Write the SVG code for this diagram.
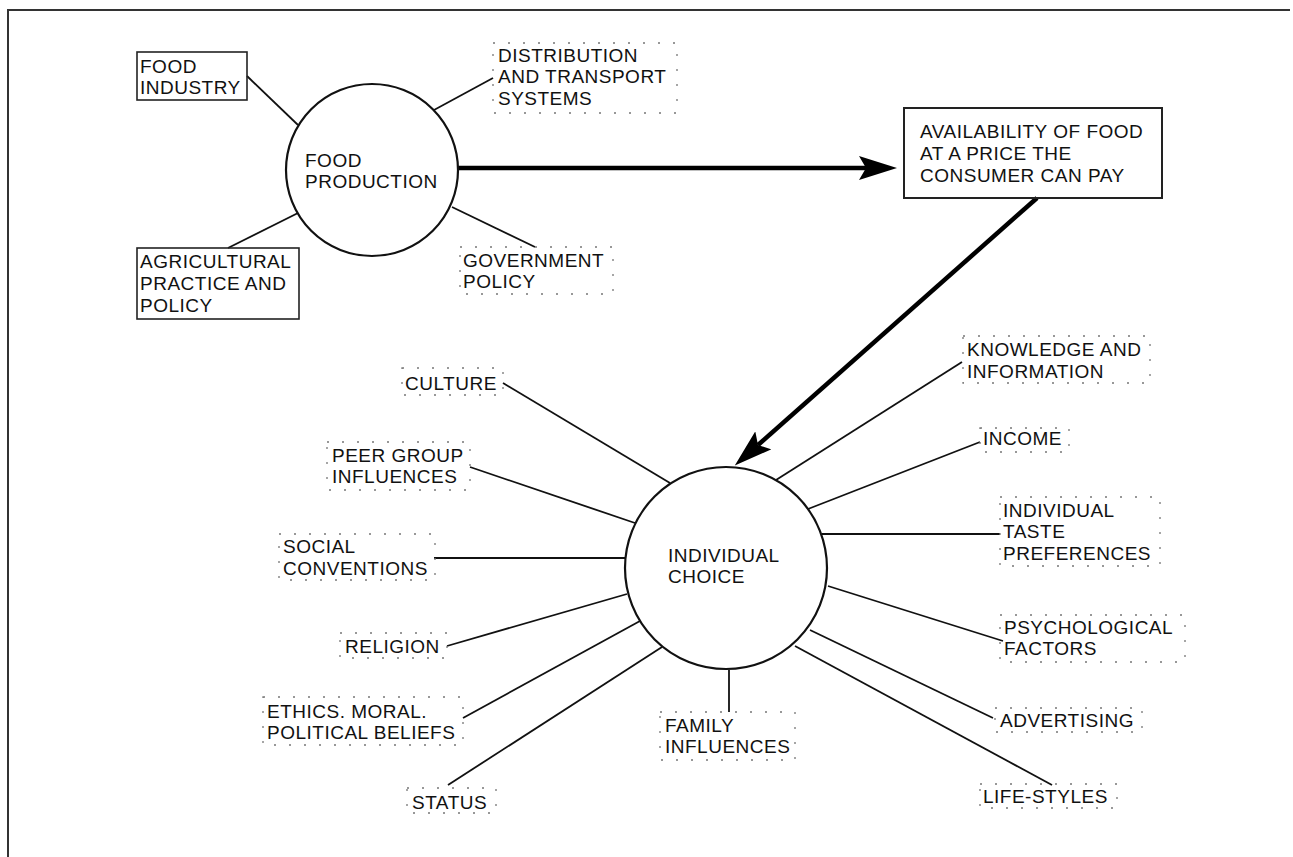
<svg xmlns="http://www.w3.org/2000/svg" width="1293" height="857" viewBox="0 0 1293 857">
<style>
text{font-family:"Liberation Sans",Arial,sans-serif;font-size:19px;letter-spacing:0.5px;fill:#111}
.hub{fill:#fff;stroke:#111;stroke-width:2.2}
.box{fill:none;stroke:#222;stroke-width:1.6}
.dbox{fill:none;stroke:#777;stroke-width:1.3;stroke-dasharray:2 13}
.spoke{stroke:#111;stroke-width:1.8;fill:none}
.big{stroke:#000;stroke-width:4.5;fill:none;marker-end:url(#ah)}
.frame{stroke:#333;stroke-width:2;fill:none}
</style>
<defs>
<marker id="ah" viewBox="0 0 38 24" markerWidth="38" markerHeight="24" markerUnits="userSpaceOnUse" refX="7" refY="12" orient="auto">
<path d="M0,0 L38,12 L0,24 L7,12 z" fill="#000"/>
</marker>
</defs>
<rect width="1293" height="857" fill="#fff"/>
<path class="frame" d="M8,857 L8,10 L1290,10"/>
<g id="connectors">
<line class="spoke" x1="247" y1="76" x2="298" y2="125"/>
<line class="spoke" x1="228" y1="248" x2="298" y2="213"/>
<line class="spoke" x1="434" y1="110" x2="493" y2="78"/>
<line class="spoke" x1="452" y1="207" x2="535" y2="247"/>
<line class="big" x1="458" y1="168" x2="866" y2="168"/>
<line class="big" x1="1037" y1="198" x2="758" y2="445"/>
<line class="spoke" x1="503" y1="383" x2="670" y2="483"/>
<line class="spoke" x1="470" y1="467" x2="635" y2="523"/>
<line class="spoke" x1="434" y1="558" x2="627" y2="558"/>
<line class="spoke" x1="447" y1="646" x2="627" y2="594"/>
<line class="spoke" x1="463" y1="718" x2="640" y2="621"/>
<line class="spoke" x1="448" y1="785" x2="662" y2="647"/>
<line class="spoke" x1="729" y1="670" x2="729" y2="712"/>
<line class="spoke" x1="962" y1="362" x2="776" y2="480"/>
<line class="spoke" x1="980" y1="442" x2="808" y2="509"/>
<line class="spoke" x1="1000" y1="534" x2="822" y2="534"/>
<line class="spoke" x1="1003" y1="641" x2="828" y2="586"/>
<line class="spoke" x1="993" y1="718" x2="810" y2="630"/>
<line class="spoke" x1="1052" y1="785" x2="795" y2="646"/>
</g>
<g id="food-production">
<circle class="hub" cx="372" cy="170" r="86"/>
<text x="305" y="167">FOOD</text>
<text x="305" y="188">PRODUCTION</text>
</g>
<g id="food-industry">
<rect class="box" x="137" y="52" width="110" height="48"/>
<text x="140" y="73">FOOD</text>
<text x="140" y="94">INDUSTRY</text>
</g>
<g id="agricultural">
<rect class="box" x="137" y="248" width="162" height="71"/>
<text x="140" y="268">AGRICULTURAL</text>
<text x="140" y="290">PRACTICE AND</text>
<text x="140" y="312">POLICY</text>
</g>
<g id="distribution">
<rect class="dbox" x="493" y="43" width="184" height="70"/>
<text x="498" y="62">DISTRIBUTION</text>
<text x="498" y="83">AND TRANSPORT</text>
<text x="498" y="105">SYSTEMS</text>
</g>
<g id="government">
<rect class="dbox" x="460" y="247" width="153" height="47"/>
<text x="463" y="267">GOVERNMENT</text>
<text x="463" y="288">POLICY</text>
</g>
<g id="availability">
<rect class="box" x="904" y="108" width="258" height="90" style="stroke-width:2"/>
<text x="920" y="138">AVAILABILITY OF FOOD</text>
<text x="920" y="160">AT A PRICE THE</text>
<text x="920" y="182">CONSUMER CAN PAY</text>
</g>
<g id="individual-choice">
<circle class="hub" cx="726" cy="568" r="101"/>
<text x="668" y="562">INDIVIDUAL</text>
<text x="668" y="583">CHOICE</text>
</g>
<g id="culture">
<rect class="dbox" x="402" y="368" width="101" height="27"/>
<text x="405" y="390">CULTURE</text>
</g>
<g id="peer-group">
<rect class="dbox" x="327" y="442" width="143" height="48"/>
<text x="332" y="462">PEER GROUP</text>
<text x="332" y="483">INFLUENCES</text>
</g>
<g id="social">
<rect class="dbox" x="279" y="534" width="156" height="46"/>
<text x="283" y="553">SOCIAL</text>
<text x="283" y="575">CONVENTIONS</text>
</g>
<g id="religion">
<rect class="dbox" x="340" y="633" width="107" height="25"/>
<text x="345" y="653">RELIGION</text>
</g>
<g id="ethics">
<rect class="dbox" x="263" y="697" width="200" height="48"/>
<text x="267" y="718">ETHICS. MORAL.</text>
<text x="267" y="739">POLITICAL BELIEFS</text>
</g>
<g id="status">
<rect class="dbox" x="407" y="788" width="89" height="25"/>
<text x="412" y="809">STATUS</text>
</g>
<g id="family">
<rect class="dbox" x="660" y="712" width="135" height="48"/>
<text x="665" y="732">FAMILY</text>
<text x="665" y="753">INFLUENCES</text>
</g>
<g id="knowledge">
<rect class="dbox" x="963" y="336" width="187" height="47"/>
<text x="967" y="356">KNOWLEDGE AND</text>
<text x="967" y="378">INFORMATION</text>
</g>
<g id="income">
<rect class="dbox" x="980" y="428" width="89" height="24"/>
<text x="983" y="445">INCOME</text>
</g>
<g id="taste">
<rect class="dbox" x="1000" y="497" width="160" height="69"/>
<text x="1003" y="517">INDIVIDUAL</text>
<text x="1003" y="538">TASTE</text>
<text x="1003" y="560">PREFERENCES</text>
</g>
<g id="psychological">
<rect class="dbox" x="1000" y="615" width="185" height="47"/>
<text x="1004" y="634">PSYCHOLOGICAL</text>
<text x="1004" y="655">FACTORS</text>
</g>
<g id="advertising">
<rect class="dbox" x="995" y="708" width="147" height="24"/>
<text x="1000" y="727">ADVERTISING</text>
</g>
<g id="life-styles">
<rect class="dbox" x="980" y="784" width="137" height="24"/>
<text x="983" y="803">LIFE-STYLES</text>
</g>
</svg>
